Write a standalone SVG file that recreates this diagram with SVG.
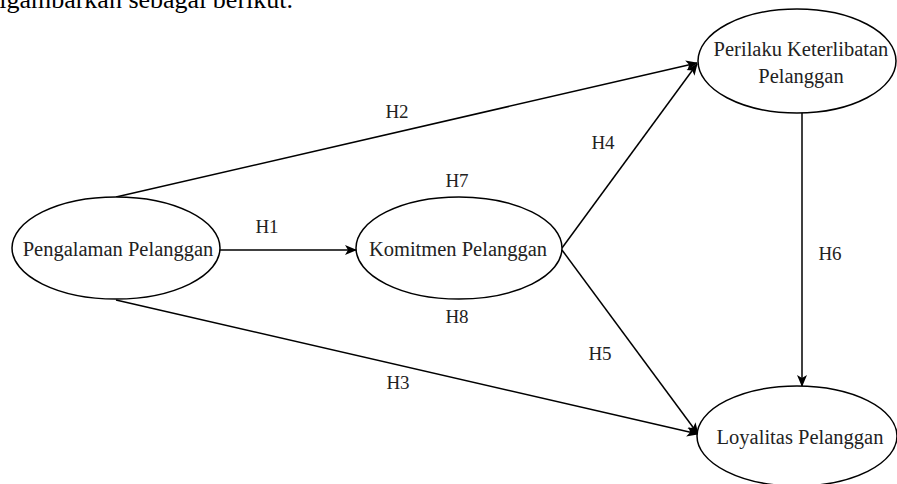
<svg xmlns="http://www.w3.org/2000/svg" width="897" height="484" viewBox="0 0 897 484">
<style>
.n{fill:#fff;stroke:#000;stroke-width:1.5}
.t{font-size:20.5px;fill:#222;text-anchor:middle}
.l{font-size:19px;fill:#222;text-anchor:middle}
.c{fill:none;stroke:#000;stroke-width:1.5;marker-end:url(#a)}
</style>
<defs>
<marker id="a" markerWidth="12" markerHeight="12" viewBox="0 0 12 12" refX="11" refY="6" orient="auto" markerUnits="userSpaceOnUse">
<path d="M0,1 L12,6 L0,11 L3,6 Z" fill="#000"/>
</marker>
</defs>
<rect width="897" height="484" fill="#fff"/>
<text x="293" y="8" font-family="Liberation Serif,serif" font-size="26" text-anchor="end" fill="#000">digambarkan sebagai berikut.</text>
<g id="connectors">
<line class="c" x1="220" y1="250" x2="356" y2="250"/>
<line class="c" x1="116" y1="197" x2="697" y2="63"/>
<line class="c" x1="562" y1="248" x2="697" y2="64"/>
<line class="c" x1="116" y1="300" x2="698" y2="434"/>
<line class="c" x1="562" y1="250" x2="698" y2="434"/>
<line class="c" x1="802" y1="112" x2="802" y2="386"/>
</g>
<g id="labels" font-family="Liberation Serif,serif">
<text class="l" x="267" y="233">H1</text>
<text class="l" x="397" y="118">H2</text>
<text class="l" x="398" y="389">H3</text>
<text class="l" x="603" y="149">H4</text>
<text class="l" x="600" y="360">H5</text>
<text class="l" x="830" y="260">H6</text>
<text class="l" x="457" y="187">H7</text>
<text class="l" x="457" y="323">H8</text>
</g>
<g id="pengalaman" font-family="Liberation Serif,serif">
<ellipse class="n" cx="116" cy="248" rx="104" ry="51"/>
<text class="t" x="118" y="256">Pengalaman Pelanggan</text>
</g>
<g id="komitmen" font-family="Liberation Serif,serif">
<ellipse class="n" cx="459" cy="248" rx="103" ry="51"/>
<text class="t" x="458" y="256">Komitmen Pelanggan</text>
</g>
<g id="perilaku" font-family="Liberation Serif,serif">
<ellipse class="n" cx="797" cy="61" rx="99" ry="52"/>
<text class="t" x="801" y="56">Perilaku Keterlibatan</text>
<text class="t" x="801" y="83">Pelanggan</text>
</g>
<g id="loyalitas" font-family="Liberation Serif,serif">
<ellipse class="n" cx="797" cy="436" rx="100" ry="50"/>
<text class="t" x="800" y="444">Loyalitas Pelanggan</text>
</g>
</svg>
